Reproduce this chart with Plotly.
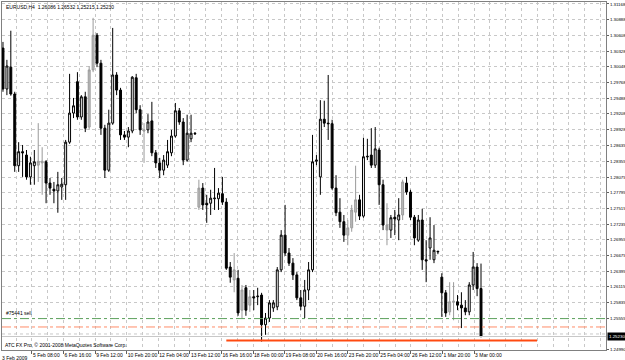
import plotly.graph_objects as go

# ---------------- data (EURUSD H4) ----------------
opens = [1.3038, 1.2965, 1.3004, 1.2956, 1.2828, 1.2853, 1.2847, 1.2808, 1.2828, 1.2829,
         1.2836, 1.2835, 1.2797, 1.2786, 1.2783, 1.2790, 1.2794, 1.2870, 1.2922, 1.2978,
         1.2915, 1.2951, 1.2897, 1.2999, 1.3061, 1.3011, 1.2895, 1.2820, 1.2904, 1.2990,
         1.2963, 1.2883, 1.2879, 1.2890, 1.2985, 1.2928, 1.2892, 1.2892, 1.2908, 1.2851,
         1.2833, 1.2820, 1.2829, 1.2851, 1.2881, 1.2926, 1.2906, 1.2838, 1.2876, 1.2886,
         1.2754, 1.2788, 1.2761, 1.2761, 1.2769, 1.2769, 1.2778, 1.2763, 1.2647, 1.2624,
         1.2627, 1.2570, 1.2610, 1.2579, 1.2594, 1.2594, 1.2597, 1.2544, 1.2556, 1.2574,
         1.2576, 1.2642, 1.2704, 1.2672, 1.2654, 1.2633, 1.2592, 1.2577, 1.2606, 1.2642,
         1.2836, 1.2808, 1.2911, 1.2904, 1.2903, 1.2788, 1.2745, 1.2728, 1.2704, 1.2717,
         1.2745, 1.2767, 1.2738, 1.2845, 1.2847, 1.2829, 1.2856, 1.2794, 1.2722, 1.2713,
         1.2736, 1.2731, 1.2740, 1.2797, 1.2781, 1.2736, 1.2695, 1.2731, 1.2660, 1.2681,
         1.2660, 1.2674, 1.2629, 1.2601, 1.2567, 1.2585, 1.2585, 1.2579, 1.2574, 1.2567,
         1.2615, 1.2647, 1.26086]
highs = [1.3049, 1.3017, 1.3069, 1.2960, 1.2870, 1.2865, 1.2856, 1.2844, 1.2856, 1.2904,
         1.2861, 1.2838, 1.2806, 1.2799, 1.2817, 1.2806, 1.2874, 1.2992, 1.2949, 1.2995,
         1.2954, 1.2960, 1.3006, 1.3092, 1.3065, 1.3017, 1.2901, 1.2928, 1.3074, 1.2995,
         1.2967, 1.2890, 1.2897, 1.2988, 1.2992, 1.2936, 1.2904, 1.2920, 1.2942, 1.2856,
         1.2842, 1.2847, 1.2874, 1.2892, 1.2940, 1.2931, 1.2913, 1.2919, 1.2919, 1.2888,
         1.2803, 1.2797, 1.2776, 1.2785, 1.2824, 1.2788, 1.2808, 1.2770, 1.2656, 1.2672,
         1.2642, 1.2615, 1.2615, 1.2606, 1.2606, 1.2610, 1.2601, 1.2565, 1.2588, 1.2588,
         1.2647, 1.2713, 1.2758, 1.2681, 1.2663, 1.2638, 1.2606, 1.2624, 1.2656, 1.2883,
         1.2847, 1.2945, 1.2944, 1.2990, 1.2910, 1.2811, 1.2770, 1.2740, 1.2731, 1.2758,
         1.2828, 1.2776, 1.2878, 1.2876, 1.2895, 1.2897, 1.2860, 1.2803, 1.2761, 1.2740,
         1.2749, 1.2770, 1.2803, 1.2808, 1.2785, 1.2740, 1.2740, 1.2751, 1.2695, 1.2736,
         1.2722, 1.2676, 1.2636, 1.2606, 1.2620, 1.2620, 1.2597, 1.2602, 1.2588, 1.2620,
         1.2674, 1.2654, 1.26532]
lows = [1.2960, 1.2954, 1.2953, 1.2817, 1.2817, 1.2808, 1.2803, 1.2794, 1.2794, 1.2799,
        1.2776, 1.2761, 1.2776, 1.2761, 1.2744, 1.2767, 1.2767, 1.2867, 1.2913, 1.2910,
        1.2910, 1.2888, 1.2892, 1.2995, 1.3004, 1.2883, 1.2806, 1.2817, 1.2901, 1.2954,
        1.2874, 1.2874, 1.2861, 1.2886, 1.2922, 1.2883, 1.2833, 1.2886, 1.2845, 1.2824,
        1.2806, 1.2811, 1.2824, 1.2845, 1.2878, 1.2901, 1.2829, 1.2835, 1.2870, 1.2883,
        1.2749, 1.2749, 1.2726, 1.2740, 1.2749, 1.2749, 1.2758, 1.2642, 1.2619, 1.2602,
        1.2560, 1.2556, 1.2560, 1.2567, 1.2570, 1.2579, 1.2514, 1.2526, 1.2549, 1.2567,
        1.2570, 1.2638, 1.2667, 1.2649, 1.2624, 1.2588, 1.2570, 1.2556, 1.2588, 1.2638,
        1.2829, 1.2776, 1.2897, 1.2874, 1.2785, 1.2738, 1.2717, 1.2692, 1.2686, 1.2710,
        1.2728, 1.2731, 1.2735, 1.2838, 1.2824, 1.2824, 1.2758, 1.2713, 1.2686, 1.2699,
        1.2704, 1.2695, 1.2731, 1.2776, 1.2731, 1.2686, 1.2692, 1.2642, 1.2620, 1.2660,
        1.2654, 1.2670, 1.2558, 1.2558, 1.2561, 1.2552, 1.2570, 1.2538, 1.2561, 1.2561,
        1.2606, 1.2595, 1.25215]
closes = [1.2965, 1.3006, 1.2956, 1.2828, 1.2853, 1.2851, 1.2808, 1.2833, 1.2835, 1.2836,
          1.2833, 1.2797, 1.2788, 1.2783, 1.2794, 1.2795, 1.2870, 1.2922, 1.2935, 1.2915,
          1.2951, 1.2895, 1.2999, 1.3061, 1.3011, 1.2895, 1.2820, 1.2904, 1.2990, 1.2963,
          1.2883, 1.2879, 1.2890, 1.2986, 1.2928, 1.2892, 1.2890, 1.2906, 1.2851, 1.2833,
          1.2820, 1.2838, 1.2853, 1.2881, 1.2926, 1.2906, 1.2838, 1.2886, 1.2886, 1.2885,
          1.2788, 1.2758, 1.2758, 1.2770, 1.2770, 1.2779, 1.2763, 1.2645, 1.2629, 1.2642,
          1.2565, 1.2606, 1.2570, 1.2594, 1.2592, 1.2595, 1.2544, 1.2556, 1.2583, 1.2583,
          1.2642, 1.2704, 1.2672, 1.2654, 1.2633, 1.2592, 1.2577, 1.2606, 1.2642, 1.2835,
          1.2838, 1.2911, 1.2904, 1.2903, 1.2788, 1.2744, 1.2728, 1.2704, 1.2717, 1.2749,
          1.2767, 1.2738, 1.2844, 1.2844, 1.2829, 1.2858, 1.2794, 1.2722, 1.2713, 1.2735,
          1.2733, 1.2740, 1.2799, 1.2781, 1.2736, 1.2699, 1.2731, 1.2660, 1.2658, 1.2699,
          1.2677, 1.2675, 1.2601, 1.2565, 1.2585, 1.2586, 1.2579, 1.2574, 1.2567, 1.2615,
          1.2647, 1.26086, 1.25230]
gray_bars = [9, 10, 22, 23, 36, 50, 59, 61, 63, 88, 89, 90, 98, 102, 114, 115]

date_labels = ["3 Feb 2009", "5 Feb 08:00", "6 Feb 16:00", "9 Feb 12:00", "10 Feb 20:00",
               "12 Feb 04:00", "13 Feb 12:00", "16 Feb 16:00", "18 Feb 00:00", "19 Feb 08:00",
               "20 Feb 16:00", "23 Feb 20:00", "25 Feb 04:00", "26 Feb 12:00", "1 Mar 20:00",
               "3 Mar 00:00"]
price_labels = ["1.31168", "1.30888", "1.30608", "1.30328", "1.30048", "1.29768", "1.29488",
                "1.29208", "1.28928", "1.28635", "1.28355", "1.28075", "1.27795", "1.27515",
                "1.27235", "1.26955", "1.26675", "1.26395", "1.26115", "1.25835", "1.25555",
                "1.24990"]
hidden_grid_level = 1.25275   # grid line whose label is covered by the price box

header = "EURUSD,H4  1.26086 1.26532 1.25215 1.25230"
copyright_text = "ATC FX Pro, \u00a9 2001-2008 MetaQuotes Software Corp."
order_label = "#75441 sell"
order_level = 1.2555      # green dash-dot
stop_level = 1.2540       # orange dash-dot
bid_level = 1.25230       # current price
target_level = 1.2516     # thick orange line
target_from, target_to = 57, 136.3

# ---------------- figure ----------------
n = len(opens)
idx = list(range(n))
norm = [i for i in idx if i not in gray_bars]
gray = [i for i in idx if i in gray_bars]

fig = go.Figure()
fig.add_trace(go.Candlestick(
    x=norm, open=[opens[i] for i in norm], high=[highs[i] for i in norm],
    low=[lows[i] for i in norm], close=[closes[i] for i in norm],
    increasing=dict(line=dict(color="#000000", width=1), fillcolor="#ffffff"),
    decreasing=dict(line=dict(color="#000000", width=1), fillcolor="#000000"),
    whiskerwidth=0, showlegend=False, hoverinfo="skip"))
fig.add_trace(go.Candlestick(
    x=gray, open=[opens[i] for i in gray], high=[highs[i] for i in gray],
    low=[lows[i] for i in gray], close=[closes[i] for i in gray],
    increasing=dict(line=dict(color="#9a9a9a", width=1), fillcolor="#bdbdbd"),
    decreasing=dict(line=dict(color="#9a9a9a", width=1), fillcolor="#9a9a9a"),
    whiskerwidth=0, showlegend=False, hoverinfo="skip"))

# grid line at the level whose label is hidden
fig.add_shape(type="line", xref="paper", x0=0, x1=1, yref="y", y0=hidden_grid_level,
              y1=hidden_grid_level, line=dict(color="#c8c8c8", width=1, dash="dot"), layer="below")
# horizontal level lines
fig.add_shape(type="line", xref="paper", x0=0, x1=1, yref="y", y0=order_level, y1=order_level,
              line=dict(color="#5fa35f", width=1, dash="dashdot"))
fig.add_shape(type="line", xref="paper", x0=0, x1=1, yref="y", y0=stop_level, y1=stop_level,
              line=dict(color="#ff8c69", width=1, dash="dashdot"))
fig.add_shape(type="line", xref="paper", x0=0, x1=1, yref="y", y0=bid_level, y1=bid_level,
              line=dict(color="#c8c8c8", width=1))
fig.add_shape(type="line", xref="x", x0=target_from, x1=target_to, yref="y",
              y0=target_level, y1=target_level, line=dict(color="#ff4a10", width=2))

FONT = "Liberation Sans, Arial, sans-serif"
small = dict(family=FONT, size=5, color="#000000")

fig.add_annotation(xref="paper", yref="paper", x=0, y=1, xshift=2, yshift=0,
                   xanchor="left", yanchor="top", text=header, showarrow=False, font=small)
fig.add_annotation(xref="paper", yref="paper", x=0, y=0, xshift=1, yshift=0,
                   xanchor="left", yanchor="bottom", text=copyright_text, showarrow=False, font=small)
fig.add_annotation(xref="paper", yref="y", x=0, y=order_level, xshift=2, yshift=1,
                   xanchor="left", yanchor="bottom", text=order_label, showarrow=False, font=small)
fig.add_annotation(xref="paper", yref="y", x=1, y=bid_level, xshift=1,
                   xanchor="left", yanchor="middle", text=f"{bid_level:.5f}", showarrow=False,
                   bgcolor="#000000", borderpad=1,
                   font=dict(family=FONT, size=4.4, color="#ffffff"))
fig.add_annotation(xref="paper", yref="paper", x=0, y=0, xshift=-2, yshift=-3,
                   xanchor="left", yanchor="top", text=date_labels[0], showarrow=False, font=small)

date_pos = [7.4 + 8.06 * k for k in range(len(date_labels) - 1)]

fig.update_layout(
    width=625, height=360, margin=dict(l=2, r=19, t=2, b=10, autoexpand=False),
    paper_bgcolor="#ffffff", plot_bgcolor="#ffffff",
    xaxis=dict(range=[-0.25, 153.9], rangeslider=dict(visible=False),
               tickmode="array", tickvals=date_pos, ticktext=date_labels[1:],
               tickangle=0, automargin=False,
               ticks="outside", ticklen=3, tickcolor="#606060",
               ticklabelposition="outside right", tickfont=small,
               showgrid=True, gridcolor="#c8c8c8", griddash="dot", gridwidth=1,
               minor=dict(tick0=7.4 - 4.03, dtick=4.03, showgrid=True,
                          gridcolor="#c8c8c8", griddash="dot", gridwidth=1),
               showline=True, linecolor="#808080", mirror=True, zeroline=False, fixedrange=True),
    yaxis=dict(range=[1.24989, 1.31203], side="right", automargin=False,
               tickmode="array", tickvals=[float(t) for t in price_labels], ticktext=price_labels,
               ticks="outside", ticklen=2, tickcolor="#606060",
               tickfont=dict(family=FONT, size=4.4, color="#000000"),
               showgrid=True, gridcolor="#c8c8c8", griddash="dot", gridwidth=1,
               showline=True, linecolor="#808080", mirror=True, zeroline=False, fixedrange=True),
    boxmode="overlay",
)

fig.write_html("out.html")
